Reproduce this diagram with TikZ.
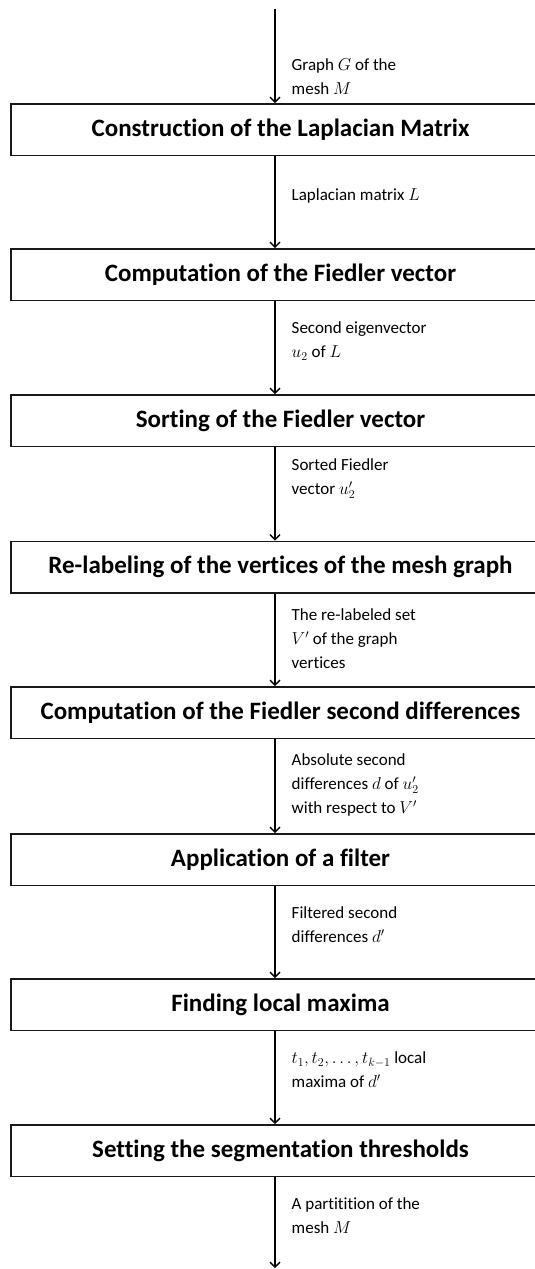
\documentclass[tikz,border=0pt]{standalone}
\usepackage{fontspec}
\setmainfont{Carlito}[RawFeature={-liga}]
\usetikzlibrary{arrows.meta}
\newcommand{\firststrut}{\rule{0pt}{14pt}}
\begin{document}
\begin{tikzpicture}[x=1pt,y=-1pt,
  stepbox/.style={draw=black!90, line width=1.8pt, minimum width=539pt, minimum height=51.5pt,
    inner sep=0pt, font=\fontsize{25}{30}\selectfont\bfseries},
  lab/.style={anchor=north west, inner sep=0pt, align=left, font=\fontsize{17}{24}\selectfont},
  arr/.style={line width=1.4pt, -{Straight Barb[length=5pt,width=10pt,line width=1.4pt]}}]
\useasboundingbox (0,0) rectangle (535,1269);
\coordinate (top) at (275,9);
\coordinate (bot) at (275,1268);
\node[stepbox] (b1) at (280.5,129.75) {Construction of the Laplacian Matrix};
\node[stepbox] (b2) at (280.5,274.75) {Computation of the Fiedler vector};
\node[stepbox] (b3) at (280.5,420.75) {Sorting of the Fiedler vector};
\node[stepbox] (b4) at (280.5,567.25) {Re-labeling of the vertices of the mesh graph};
\node[stepbox] (b5) at (280.5,712.75) {Computation of the Fiedler second differences};
\node[stepbox] (b6) at (280.5,859.75) {Application of a filter};
\node[stepbox] (b7) at (280.5,1004.75) {Finding local maxima};
\node[stepbox] (b8) at (280.5,1150.75) {Setting the segmentation thresholds};
\draw[arr] (top) -- (b1.north -| top);
\draw[arr] (b1.south -| top) -- (b2.north -| top);
\draw[arr] (b2.south -| top) -- (b3.north -| top);
\draw[arr] (b3.south -| top) -- (b4.north -| top);
\draw[arr] (b4.south -| top) -- (b5.north -| top);
\draw[arr] (b5.south -| top) -- (b6.north -| top);
\draw[arr] (b6.south -| top) -- (b7.north -| top);
\draw[arr] (b7.south -| top) -- (b8.north -| top);
\draw[arr] (b8.south -| top) -- (bot);
\node[lab] (l1) at (291.5,56.5) {\firststrut Graph $G$ of the\\ mesh $M$};
\node[lab] (l2) at (291.5,186.5) {\firststrut Laplacian matrix $L$};
\node[lab] (l3) at (291.5,319.5) {\firststrut Second eigenvector\\ $u_2$ of $L$};
\node[lab] (l4) at (291.5,456.5) {\firststrut Sorted Fiedler\\ vector $u_2'$};
\node[lab] (l5) at (291.5,606.5) {\firststrut The re-labeled set\\ $V'$ of the graph\\ vertices};
\node[lab] (l6) at (291.5,751.5) {\firststrut Absolute second\\ differences $d$ of $u_2'$\\ with respect to $V'$};
\node[lab] (l7) at (291.5,904.5) {\firststrut Filtered second\\ differences $d'$};
\node[lab] (l8) at (291.5,1049.5) {\firststrut $t_1, t_2, \dots, t_{k-1}$ local\\ maxima of $d'$};
\node[lab] (l9) at (291.5,1195.5) {\firststrut A partitition of the\\ mesh $M$};
\end{tikzpicture}
\end{document}
